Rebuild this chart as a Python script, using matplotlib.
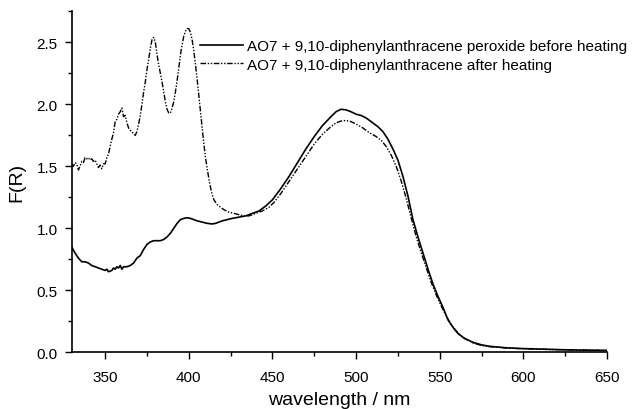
import matplotlib
matplotlib.use("Agg")
import matplotlib.pyplot as plt
from matplotlib.ticker import MultipleLocator, FormatStrFormatter

# ---- data ----
wl_before = [330, 332, 334, 336, 338, 340, 342, 344, 346, 348, 350, 351, 352, 354, 355,
             356, 357, 358, 359, 360, 361, 363, 365, 367, 369, 371, 373, 375, 377, 379,
             381, 383, 385, 387, 389, 391, 393, 395, 397, 399, 401, 403, 405, 408, 411,
             414, 416, 418, 420, 423, 426, 430, 434, 438, 442, 446, 450, 455, 460, 465,
             470, 475, 480, 485, 488, 491, 494, 497, 500, 503, 506, 510, 513, 516, 519,
             522, 525, 528, 531, 534, 537, 540, 543, 546, 549, 552, 555, 558, 561, 565,
             570, 575, 580, 590, 600, 625, 650]
f_before = [0.85, 0.80, 0.76, 0.73, 0.73, 0.72, 0.70, 0.69, 0.68, 0.67, 0.66, 0.67, 0.65, 0.66, 0.68,
            0.67, 0.69, 0.68, 0.70, 0.67, 0.69, 0.69, 0.70, 0.72, 0.76, 0.78, 0.83, 0.87, 0.89, 0.90,
            0.90, 0.90, 0.91, 0.93, 0.96, 1.00, 1.04, 1.07, 1.08, 1.085, 1.08, 1.07, 1.06, 1.05, 1.04,
            1.035, 1.04, 1.05, 1.06, 1.07, 1.08, 1.09, 1.10, 1.12, 1.14, 1.18, 1.23, 1.32, 1.42, 1.53,
            1.64, 1.74, 1.83, 1.90, 1.94, 1.96, 1.955, 1.94, 1.92, 1.91, 1.89, 1.85, 1.82, 1.78, 1.72,
            1.64, 1.55, 1.42, 1.26, 1.07, 0.93, 0.80, 0.67, 0.55, 0.45, 0.36, 0.26, 0.20, 0.15, 0.11,
            0.08, 0.06, 0.048, 0.036, 0.03, 0.02, 0.015]

wl_after = [330, 331, 332, 333, 334, 335, 336, 337, 338, 339, 340, 341, 342, 343, 344,
            345, 346, 347, 348, 349, 350, 351, 352, 353, 354, 355, 356, 357, 358, 359,
            360, 361, 362, 363, 364, 365, 366, 367, 368, 369, 370, 371, 372, 373, 374,
            375, 376, 377, 378, 379, 380, 381, 382, 383, 384, 385, 386, 387, 388, 389,
            390, 391, 392, 393, 394, 395, 396, 397, 398, 399, 400, 401, 402, 403, 404,
            405, 406, 407, 408, 409, 410, 411, 412, 413, 414, 415, 417, 419, 421, 424,
            427, 430, 433, 436, 440, 444, 448, 451, 455, 460, 465, 470, 475, 480, 485,
            488, 491, 494, 497, 500, 504, 508, 512, 515, 518, 521, 524, 527, 530, 533,
            536, 539, 542, 545, 548, 551, 554, 557, 560, 564, 570, 575, 580, 590, 600,
            625, 650]
f_after = [1.52, 1.50, 1.53, 1.52, 1.47, 1.50, 1.54, 1.53, 1.57, 1.56, 1.57, 1.55, 1.56, 1.54, 1.55,
           1.52, 1.49, 1.51, 1.48, 1.52, 1.52, 1.57, 1.60, 1.66, 1.72, 1.77, 1.86, 1.88, 1.92, 1.94,
           1.97, 1.90, 1.91, 1.85, 1.81, 1.79, 1.78, 1.76, 1.75, 1.78, 1.84, 1.91, 2.00, 2.10, 2.18,
           2.28, 2.36, 2.45, 2.52, 2.54, 2.50, 2.40, 2.32, 2.25, 2.18, 2.10, 2.02, 1.96, 1.93, 1.93,
           1.97, 2.02, 2.10, 2.19, 2.29, 2.40, 2.48, 2.55, 2.59, 2.61, 2.61, 2.58, 2.52, 2.43, 2.32,
           2.20, 2.07, 1.94, 1.81, 1.68, 1.57, 1.48, 1.40, 1.33, 1.27, 1.23, 1.19, 1.17, 1.15, 1.13,
           1.12, 1.11, 1.10, 1.10, 1.12, 1.14, 1.17, 1.21, 1.28, 1.38, 1.48, 1.58, 1.68, 1.76, 1.82,
           1.85, 1.865, 1.87, 1.86, 1.84, 1.81, 1.77, 1.74, 1.71, 1.66, 1.59, 1.50, 1.38, 1.24, 1.08,
           0.93, 0.80, 0.68, 0.56, 0.46, 0.37, 0.29, 0.22, 0.17, 0.12, 0.075, 0.055, 0.045, 0.035, 0.028,
           0.02, 0.015]

labels = ["AO7 + 9,10-diphenylanthracene peroxide before heating",
          "AO7 + 9,10-diphenylanthracene after heating"]
x_label = "wavelength / nm"
y_label = "F(R)"

plt.rcParams['font.family'] = ['Liberation Sans', 'DejaVu Sans']

fig = plt.figure(figsize=(6.37, 4.10), dpi=100)
ax = fig.add_axes([71.7 / 637, 1 - 353.3 / 410, (607 - 71.7) / 637, (353.3 - 12.3) / 410])

ax.plot(wl_before, f_before, color='black', lw=1.2, ls='-', label=labels[0])
ax.plot(wl_after, f_after, color='black', lw=1.0,
        ls=(0, (4, 1.2, 1, 1.2, 1, 1.2)), label=labels[1])

ax.set_xlim(330, 650)
ax.set_ylim(0, 2.75)
ax.xaxis.set_major_locator(MultipleLocator(50))
ax.xaxis.set_minor_locator(MultipleLocator(25))
ax.yaxis.set_major_locator(MultipleLocator(0.5))
ax.yaxis.set_minor_locator(MultipleLocator(0.25))
ax.set_xticks([350, 400, 450, 500, 550, 600, 650])
ax.yaxis.set_major_formatter(FormatStrFormatter('%.1f'))

for s in ['top', 'right']:
    ax.spines[s].set_visible(False)
for s in ['left', 'bottom']:
    ax.spines[s].set_linewidth(1.2)

ax.tick_params(which='major', direction='out', length=5, width=1.0, labelsize=11)
ax.tick_params(which='minor', direction='out', length=3, width=1.0)
ax.tick_params(axis='x', which='major', pad=8)
ax.tick_params(axis='y', which='major', pad=5)

ax.set_xlabel(x_label, fontsize=14, labelpad=5)
ax.set_ylabel(y_label, fontsize=14, labelpad=8)

fig.legend(loc='upper left', bbox_to_anchor=(200 / 637, 1 - 40 / 410), frameon=False,
           fontsize=11, handlelength=2.8, handletextpad=0.25, labelspacing=0.3,
           borderpad=0, borderaxespad=0)

fig.savefig('out.png', dpi=100)
